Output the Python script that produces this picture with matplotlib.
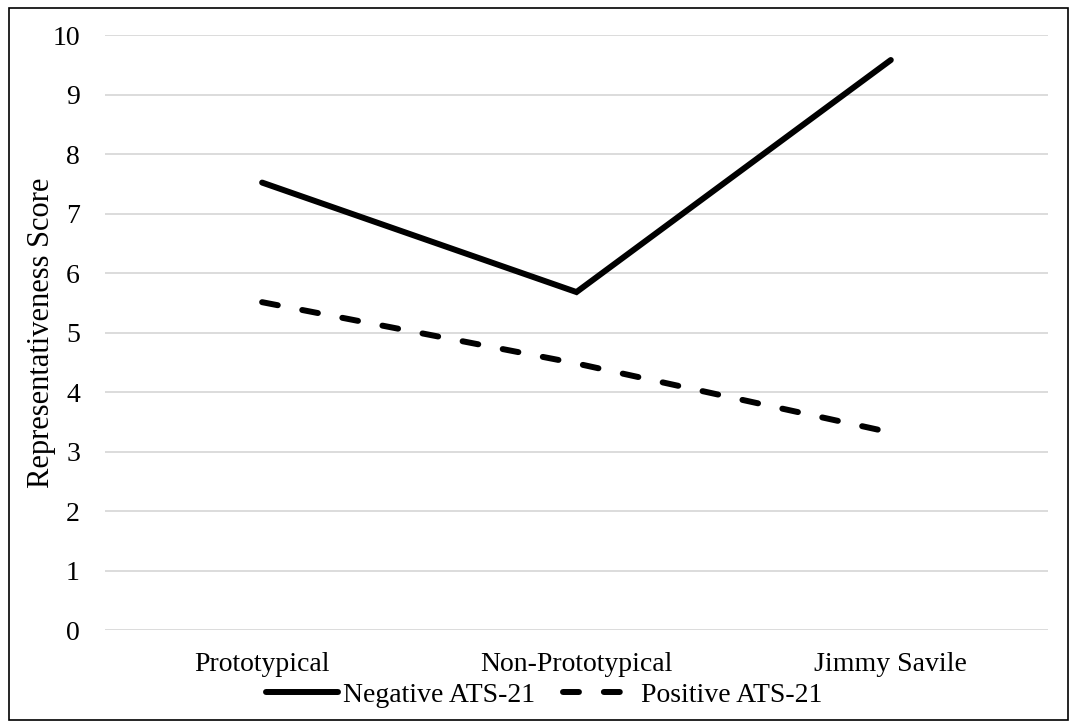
import matplotlib
matplotlib.use('agg')
import matplotlib.pyplot as plt
from matplotlib.patches import Rectangle

plt.rcParams['font.family'] = ['Liberation Serif', 'DejaVu Serif']

categories = ['Prototypical', 'Non-Prototypical', 'Jimmy Savile']
negative_ats = [7.52, 5.68, 9.58]
positive_ats = [5.51, 4.48, 3.32]
yticks = list(range(0, 11))

fig = plt.figure(figsize=(10.71, 7.22), dpi=100)
ax = fig.add_axes([0.098, 0.1274, 0.8805, 0.8241])

x = range(len(categories))
ax.plot(x, negative_ats, color='black', lw=4.3, solid_capstyle='round',
        solid_joinstyle='miter', label='Negative ATS-21')
ax.plot(x, positive_ats, color='black', lw=4.3, dash_capstyle='round',
        linestyle=(0, (2.67, 4.17)), label='Positive ATS-21')

ax.set_xlim(-0.5, 2.5)
ax.set_ylim(0, 10)
ax.set_yticks(yticks)
ax.set_xticks(list(x))
ax.set_xticklabels(categories)
ax.grid(axis='y', color='#d9d9d9', lw=1.3)
ax.set_axisbelow(True)
for s in ax.spines.values():
    s.set_visible(False)
ax.tick_params(length=0, labelsize=20)
ax.tick_params(axis='y', pad=18)
ax.tick_params(axis='x', pad=16)
ax.set_ylabel('Representativeness Score', fontsize=22)
ax.yaxis.set_label_coords(-0.052, 0.5)

leg = fig.legend(loc='center', bbox_to_anchor=(0.508, 0.037), ncol=2, frameon=False,
                 fontsize=20, handlelength=2.6, handletextpad=0.2, columnspacing=1.0)

fig.add_artist(Rectangle((0.0085, 0.003), 0.989, 0.986, transform=fig.transFigure,
                         fill=False, edgecolor='black', lw=1.2))

fig.savefig('out.png', dpi=100)
